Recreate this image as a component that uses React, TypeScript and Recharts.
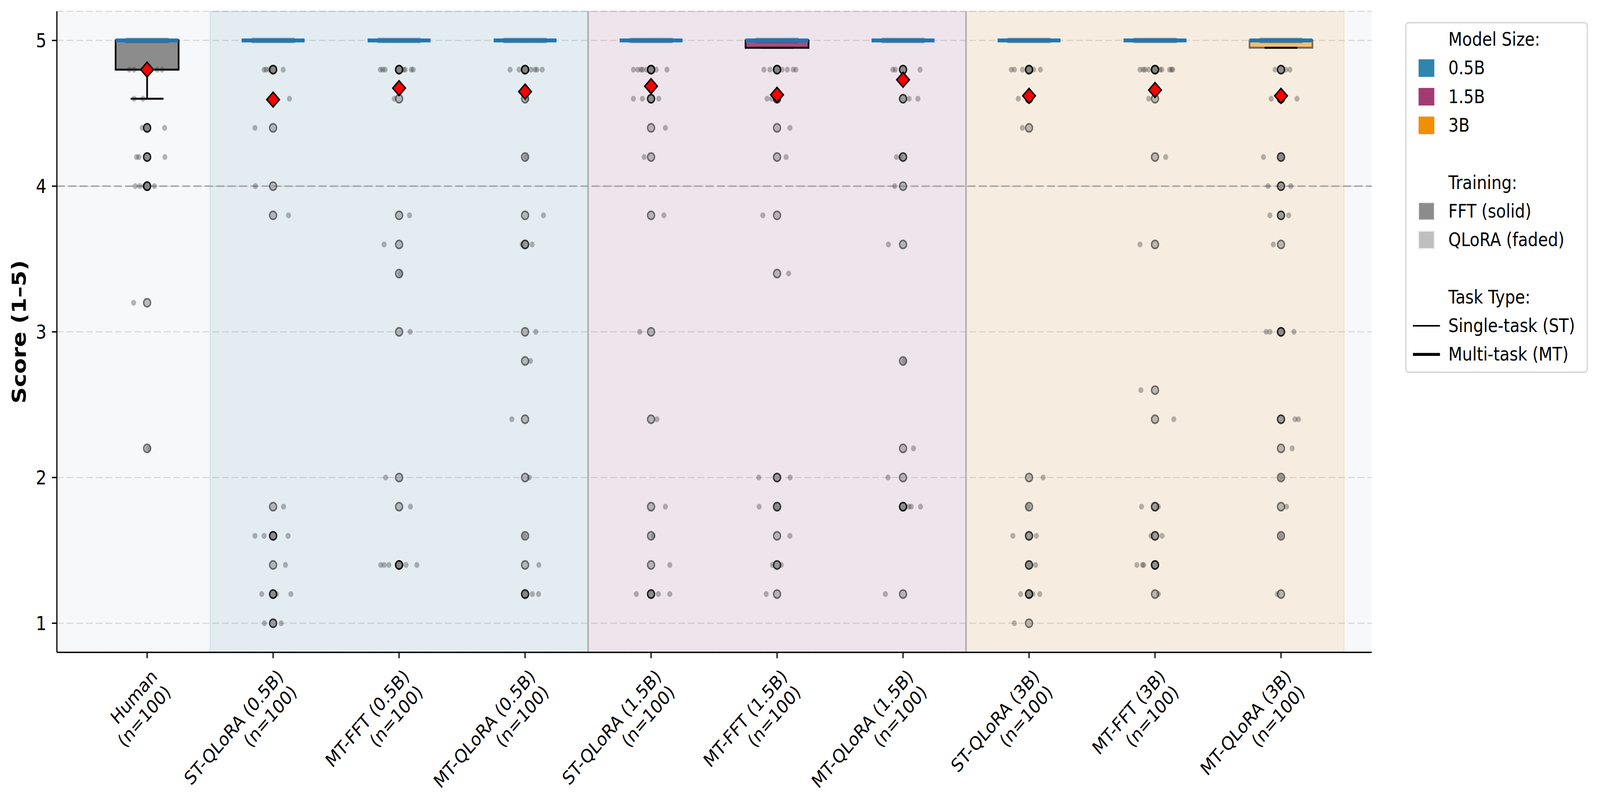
import React from 'react';
import {
  ComposedChart,
  XAxis,
  YAxis,
  CartesianGrid,
  Scatter,
  ReferenceArea,
  ReferenceLine,
} from 'recharts';

const FONT = 'DejaVu Sans';

// ---------- data ----------
const categories = [
  'Human',
  'ST-QLoRA (0.5B)',
  'MT-FFT (0.5B)',
  'MT-QLoRA (0.5B)',
  'ST-QLoRA (1.5B)',
  'MT-FFT (1.5B)',
  'MT-QLoRA (1.5B)',
  'ST-QLoRA (3B)',
  'MT-FFT (3B)',
  'MT-QLoRA (3B)',
];
const sampleSizes = [100, 100, 100, 100, 100, 100, 100, 100, 100, 100];
const meanScores = [4.8, 4.594, 4.673, 4.649, 4.686, 4.627, 4.73, 4.62, 4.66, 4.62];
const medianScores = [5, 5, 5, 5, 5, 5, 5, 5, 5, 5];
const q1Scores = [4.8, 5, 5, 5, 5, 4.95, 5, 5, 5, 4.95];
const q3Scores = [5, 5, 5, 5, 5, 5, 5, 5, 5, 5];
const whiskerLowScores = [4.6, 5, 5, 5, 5, 4.95, 5, 5, 5, 4.95];
const yTicks = [1, 2, 3, 4, 5];
const xTicks = [0, 1, 2, 3, 4, 5, 6, 7, 8, 9];

// jitter offsets of the many answers that sit at score 5 (dense cluster)
const topClusterOffsets = [-0.16, -0.14, -0.12, -0.1, -0.08, -0.06, -0.04, -0.02, 0, 0.02, 0.04, 0.06, 0.08, 0.1, 0.12, 0.14, 0.16];

// outliers per group: [score, number of answers at that score]
const flierCounts: number[][][] = [
  [[4.4, 3], [4.2, 3], [4.0, 4], [3.2, 1], [2.2, 1]],
  [[4.8, 4], [4.6, 1], [4.4, 1], [4.0, 1], [3.8, 1], [1.8, 1], [1.6, 3], [1.4, 1], [1.2, 3], [1.0, 2]],
  [[4.8, 5], [4.6, 1], [3.8, 1], [3.6, 1], [3.4, 1], [3.0, 1], [2.0, 1], [1.8, 1], [1.4, 5]],
  [[4.8, 6], [4.6, 1], [4.2, 1], [3.8, 1], [3.6, 2], [3.0, 1], [2.8, 1], [2.4, 1], [2.0, 1], [1.6, 1], [1.4, 1], [1.2, 3]],
  [[4.8, 7], [4.6, 3], [4.4, 1], [4.2, 1], [3.8, 1], [3.0, 1], [2.4, 1], [1.8, 1], [1.6, 1], [1.4, 1], [1.2, 3]],
  [[4.8, 6], [4.6, 2], [4.4, 1], [4.2, 1], [3.8, 1], [3.4, 1], [2.0, 2], [1.8, 2], [1.6, 1], [1.4, 2], [1.2, 1]],
  [[4.8, 3], [4.6, 2], [4.2, 2], [4.0, 1], [3.6, 1], [2.8, 1], [2.2, 1], [2.0, 1], [1.8, 3], [1.2, 1]],
  [[4.8, 5], [4.6, 2], [4.4, 1], [2.0, 1], [1.8, 1], [1.6, 2], [1.4, 2], [1.2, 3], [1.0, 1]],
  [[4.8, 9], [4.6, 1], [4.2, 1], [3.6, 1], [2.6, 1], [2.4, 1], [1.8, 2], [1.6, 2], [1.4, 3], [1.2, 1]],
  [[4.8, 3], [4.6, 2], [4.2, 2], [4.0, 2], [3.8, 2], [3.6, 1], [3.0, 3], [2.4, 2], [2.2, 1], [2.0, 1], [1.8, 1], [1.6, 1], [1.2, 1]],
];

// individual jittered answers per group (below 5): [horizontal jitter, score]
const jitterPoints: number[][][] = [
  [[-0.141, 4.8], [-0.103, 4.8], [0.081, 4.8], [0.119, 4.8], [-0.103, 4.6], [-0.033, 4.6], [-0.039, 4.4], [0.005, 4.4], [0.139, 4.4], [-0.084, 4.2], [-0.065, 4.2], [0.141, 4.2], [-0.094, 4.0], [-0.058, 4.0], [-0.02, 4.0], [0.058, 4.0], [-0.107, 3.2], [0.011, 2.2]],
  [[-0.071, 4.8], [-0.056, 4.8], [-0.03, 4.8], [0.08, 4.8], [0.13, 4.6], [-0.144, 4.4], [-0.141, 4.0], [0.122, 3.8], [0.083, 1.8], [-0.144, 1.6], [-0.071, 1.6], [0.119, 1.6], [0.098, 1.4], [-0.09, 1.2], [0.027, 1.2], [0.141, 1.2], [-0.069, 1.0], [0.064, 1.0]],
  [[-0.149, 4.8], [-0.13, 4.8], [-0.111, 4.8], [0.036, 4.8], [0.048, 4.8], [0.097, 4.8], [0.112, 4.8], [-0.038, 4.6], [0.083, 3.8], [-0.119, 3.6], [0.01, 3.4], [0.088, 3.0], [-0.107, 2.0], [0.09, 1.8], [-0.146, 1.4], [-0.119, 1.4], [-0.081, 1.4], [0.055, 1.4], [0.141, 1.4]],
  [[-0.119, 4.8], [-0.048, 4.8], [0.047, 4.8], [0.079, 4.8], [0.094, 4.8], [0.136, 4.8], [0.01, 4.6], [0.005, 4.2], [0.146, 3.8], [-0.023, 3.6], [0.056, 3.6], [0.085, 3.0], [0.043, 2.8], [-0.105, 2.4], [0.034, 2.0], [-0.004, 1.6], [0.109, 1.4], [0.0, 1.2], [0.058, 1.2], [0.107, 1.2]],
  [[-0.14, 4.8], [-0.105, 4.8], [-0.08, 4.8], [-0.067, 4.8], [-0.036, 4.8], [0.041, 4.8], [0.126, 4.8], [-0.14, 4.6], [-0.069, 4.6], [0.061, 4.6], [0.114, 4.4], [-0.055, 4.2], [0.102, 3.8], [-0.09, 3.0], [0.047, 2.4], [0.114, 1.8], [0.015, 1.6], [0.149, 1.4], [-0.117, 1.2], [0.058, 1.2], [0.149, 1.2]],
  [[-0.104, 4.8], [-0.056, 4.8], [0.039, 4.8], [0.081, 4.8], [0.128, 4.8], [0.15, 4.8], [-0.079, 4.6], [-0.043, 4.6], [0.102, 4.4], [0.072, 4.2], [-0.113, 3.8], [0.092, 3.4], [-0.145, 2.0], [0.104, 2.0], [-0.142, 1.8], [0.0, 1.8], [0.102, 1.6], [-0.037, 1.4], [0.033, 1.4], [-0.086, 1.2]],
  [[-0.081, 4.8], [-0.062, 4.8], [0.135, 4.8], [0.048, 4.6], [0.118, 4.6], [-0.052, 4.2], [-0.018, 4.2], [-0.066, 4.0], [-0.116, 3.6], [0.008, 2.8], [0.083, 2.2], [-0.119, 2.0], [0.046, 1.8], [0.065, 1.8], [0.139, 1.8], [-0.14, 1.2]],
  [[-0.141, 4.8], [-0.116, 4.8], [-0.052, 4.8], [0.037, 4.8], [0.09, 4.8], [-0.085, 4.6], [0.011, 4.6], [-0.053, 4.4], [0.112, 2.0], [-0.008, 1.8], [-0.128, 1.6], [0.058, 1.6], [0.0, 1.4], [0.052, 1.4], [-0.067, 1.2], [0.031, 1.2], [0.085, 1.2], [-0.117, 1.0]],
  [[-0.119, 4.8], [-0.094, 4.8], [-0.079, 4.8], [-0.05, 4.8], [0.039, 4.8], [0.055, 4.8], [0.116, 4.8], [0.131, 4.8], [0.141, 4.8], [-0.05, 4.6], [0.085, 4.2], [-0.119, 3.6], [-0.112, 2.6], [0.149, 2.4], [-0.107, 1.8], [0.027, 1.8], [-0.031, 1.6], [0.056, 1.6], [-0.144, 1.4], [-0.099, 1.4], [-0.09, 1.4], [0.027, 1.2]],
  [[-0.047, 4.8], [0.038, 4.8], [0.071, 4.8], [-0.078, 4.6], [0.127, 4.6], [-0.139, 4.2], [0.0, 4.2], [-0.103, 4.0], [0.078, 4.0], [-0.088, 3.8], [0.061, 3.8], [-0.061, 3.6], [-0.118, 3.0], [-0.088, 3.0], [0.103, 3.0], [0.111, 2.4], [0.139, 2.4], [0.088, 2.2], [0.0, 2.0], [0.044, 1.8], [0.0, 1.6], [-0.029, 1.2]],
];

// legend entries
const legendSizeLabels = ['0.5B', '1.5B', '3B'];
const legendTrainingLabels = ['FFT (solid)', 'QLoRA (faded)'];
const legendTaskLabels = ['Single-task (ST)', 'Multi-task (MT)'];

// ---------- styles ----------
const FIG_W = 4773;
const FIG_H = 2071;
// the photographed frame is narrower than the window: fit the whole figure into it
const FIT_X = 4090 / FIG_W;
const LABEL_FS = 48;
const BOX_HALF = 0.25;
const CAP_HALF = 0.13;
const MEDIAN_PX = 188;
const sizeColors = ['#2E86AB', '#A23B72', '#F18F01'];
const trainingColors = ['#8c8c8c', '#bfbfbf'];
const taskLineWidths = [4, 7.5];
const groupSpans = [
  { from: 0.5, to: 3.5, color: sizeColors[0] },
  { from: 3.5, to: 6.5, color: sizeColors[1] },
  { from: 6.5, to: 9.5, color: sizeColors[2] },
];
const boxStyles = [
  { fill: '#808080', fillOpacity: 0.9, stroke: '#000', strokeOpacity: 1 },
  null, null, null, null,
  { fill: '#A23B72', fillOpacity: 0.9, stroke: '#000', strokeOpacity: 1 },
  null, null, null,
  { fill: '#F18F01', fillOpacity: 0.5, stroke: '#000', strokeOpacity: 0.5 },
];

// ---------- derived series ----------
const jitterData: { x: number; y: number }[] = [];
categories.forEach((_, i) => {
  topClusterOffsets.forEach((o) => jitterData.push({ x: i + o, y: medianScores[i] }));
  jitterPoints[i].forEach(([o, v]) => jitterData.push({ x: i + o, y: v }));
});
const flierData: { x: number; y: number; n: number }[] = [];
categories.forEach((_, i) => {
  flierCounts[i].forEach(([v, n]) => flierData.push({ x: i, y: v, n }));
});
const meanData = categories.map((_, i) => ({ x: i, y: meanScores[i] }));
const medianData = categories.map((_, i) => ({ x: i, y: medianScores[i] }));

// ---------- shapes ----------
const JitterDot = (p: any) => (
  <circle cx={p.cx} cy={p.cy} r={7.5} fill="#333333" fillOpacity={0.35} />
);
const FlierDot = (p: any) => {
  const a = 1 - Math.pow(0.5, p.payload.n);
  return (
    <circle
      cx={p.cx}
      cy={p.cy}
      r={10.5}
      fill="#808080"
      fillOpacity={a}
      stroke="#000"
      strokeOpacity={a}
      strokeWidth={4}
    />
  );
};
const MedianMark = (p: any) => (
  <line x1={p.cx - MEDIAN_PX / 2} x2={p.cx + MEDIAN_PX / 2} y1={p.cy} y2={p.cy} stroke="#1f77b4" strokeWidth={10} />
);
const MeanDiamond = (p: any) => {
  const s = 19;
  return (
    <polygon
      points={`${p.cx},${p.cy - s} ${p.cx + s},${p.cy} ${p.cx},${p.cy + s} ${p.cx - s},${p.cy}`}
      fill="#ff0000"
      stroke="#000"
      strokeWidth={4}
    />
  );
};

const XTick = (p: any) => {
  const idx = Math.round(p.payload.value);
  const lines = [categories[idx], `(n=${sampleSizes[idx]})`];
  return (
    <g transform={`translate(${p.x + 8},${p.y + 24}) rotate(-45)`}>
      <text textAnchor="end" fontSize={LABEL_FS} fontFamily={FONT} fill="#000">
        <tspan x={0} dy={36}>{lines[0]}</tspan>
        <tspan x={0} dy={57}>{lines[1]}</tspan>
      </text>
    </g>
  );
};

const YLabel = (p: any) => {
  const vb = p.viewBox || { x: 0, y: 29, width: 170, height: 1641 };
  const cx = vb.x + 57;
  const cy = vb.y + vb.height / 2;
  return (
    <text
      x={cx}
      y={cy}
      transform={`rotate(-90, ${cx}, ${cy})`}
      textAnchor="middle"
      dominantBaseline="central"
      fontSize={58}
      fontWeight="bold"
      fontFamily={FONT}
      fill="#000"
    >
      Score (1–5)
    </text>
  );
};

type Row = { kind: string; label: string; color?: string; edge?: boolean; width?: number };
const legendRows: Row[] = [
  { kind: 'title', label: 'Model Size:' },
  ...legendSizeLabels.map((l, i) => ({ kind: 'patch', label: l, color: sizeColors[i] })),
  { kind: 'blank', label: '' },
  { kind: 'title', label: 'Training:' },
  ...legendTrainingLabels.map((l, i) => ({ kind: 'patch', label: l, color: trainingColors[i], edge: true })),
  { kind: 'blank', label: '' },
  { kind: 'title', label: 'Task Type:' },
  ...legendTaskLabels.map((l, i) => ({ kind: 'line', label: l, width: taskLineWidths[i] })),
];

const LegendBox = ({ left, top }: { left: number; top: number }) => {
  const W = 546;
  const H = 899;
  const rowY0 = 45;
  const step = 73.3;
  return (
    <g transform={`translate(${left},${top})`} className="legend-box">
      <rect x={2} y={2} width={W - 4} height={H - 4} rx={9} ry={9} fill="#ffffff" fillOpacity={0.9} stroke="#d9d9d9" strokeWidth={4} />
      {legendRows.map((r, i) => {
        const cy = rowY0 + i * step;
        return (
          <g key={i}>
            {r.kind === 'patch' && (
              <rect
                x={40}
                y={cy - 22.5}
                width={47}
                height={45}
                fill={r.color}
                stroke={r.edge ? '#eeeeee' : 'none'}
                strokeWidth={r.edge ? 3 : 0}
              />
            )}
            {r.kind === 'line' && (
              <line x1={23} x2={104} y1={cy} y2={cy} stroke="#000" strokeWidth={r.width} />
            )}
            {r.label && (
              <text x={129} y={cy} dominantBaseline="central" fontSize={LABEL_FS} fontFamily={FONT} fill="#000">
                {r.label}
              </text>
            )}
          </g>
        );
      })}
    </g>
  );
};

export default function App() {
  return (
    <div
      style={{
        position: 'absolute',
        left: 0,
        top: 0,
        width: FIG_W,
        height: FIG_H,
        background: '#fff',
        transform: `scaleX(${FIT_X})`,
        transformOrigin: '0 0',
      }}
    >
      <ComposedChart
        width={FIG_W}
        height={FIG_H}
        margin={{ top: 29, right: 675, bottom: 0, left: 0 }}
        style={{ fontFamily: FONT }}
      >
        <CartesianGrid
          vertical={false}
          stroke="#dadada"
          strokeWidth={3}
          strokeDasharray="20 9"
          fill="#f7f8fa"
          fillOpacity={1}
        />
        <XAxis
          type="number"
          dataKey="x"
          domain={[-0.716, 9.72]}
          ticks={xTicks}
          allowDataOverflow
          height={401}
          interval={0}
          axisLine={{ stroke: '#000', strokeWidth: 3.5 }}
          tickLine={{ stroke: '#000', strokeWidth: 3.5 }}
          tickSize={15}
          tickMargin={0}
          tick={<XTick />}
        />
        <YAxis
          type="number"
          dataKey="y"
          domain={[0.8, 5.2]}
          ticks={yTicks}
          allowDataOverflow
          width={170}
          axisLine={{ stroke: '#000', strokeWidth: 3.5 }}
          tickLine={{ stroke: '#000', strokeWidth: 3.5 }}
          tickSize={15}
          tickMargin={16}
          tick={{ fontSize: 50, fill: '#000', fontFamily: FONT }}
          label={<YLabel />}
        />
        {groupSpans.map((g) => (
          <ReferenceArea
            key={g.color}
            x1={g.from}
            x2={g.to}
            fill={g.color}
            fillOpacity={0.1}
            stroke={g.color}
            strokeOpacity={0.15}
            strokeWidth={3}
          />
        ))}
        <ReferenceLine y={4} stroke="#a8a8a8" strokeWidth={4} strokeDasharray="24 10" />
        <ReferenceLine x={3.5} stroke="#9a9a9a" strokeOpacity={0.6} strokeWidth={5} />
        <ReferenceLine x={6.5} stroke="#9a9a9a" strokeOpacity={0.6} strokeWidth={5} />
        {categories.map((c, i) => {
          const st = boxStyles[i];
          if (!st) return null;
          return (
            <ReferenceArea
              key={`box-${c}`}
              x1={i - BOX_HALF}
              x2={i + BOX_HALF}
              y1={q1Scores[i]}
              y2={q3Scores[i]}
              fill={st.fill}
              fillOpacity={st.fillOpacity}
              stroke={st.stroke}
              strokeOpacity={st.strokeOpacity}
              strokeWidth={5}
            />
          );
        })}
        {categories.map((c, i) =>
          whiskerLowScores[i] < q1Scores[i] ? (
            <ReferenceLine
              key={`wh-${c}`}
              segment={[
                { x: i, y: q1Scores[i] },
                { x: i, y: whiskerLowScores[i] },
              ]}
              stroke="#000"
              strokeWidth={5}
            />
          ) : null
        )}
        {categories.map((c, i) =>
          whiskerLowScores[i] < q3Scores[i] ? (
            <ReferenceLine
              key={`cap-${c}`}
              segment={[
                { x: i - CAP_HALF, y: whiskerLowScores[i] },
                { x: i + CAP_HALF, y: whiskerLowScores[i] },
              ]}
              stroke="#000"
              strokeWidth={5}
            />
          ) : null
        )}
        <Scatter data={jitterData} dataKey="y" shape={<JitterDot />} isAnimationActive={false} />
        <Scatter data={flierData} dataKey="y" shape={<FlierDot />} isAnimationActive={false} />
        <Scatter data={medianData} dataKey="y" shape={<MedianMark />} isAnimationActive={false} />
        <Scatter data={meanData} dataKey="y" shape={<MeanDiamond />} isAnimationActive={false} />
        <LegendBox left={4198} top={56} />
      </ComposedChart>
    </div>
  );
}
